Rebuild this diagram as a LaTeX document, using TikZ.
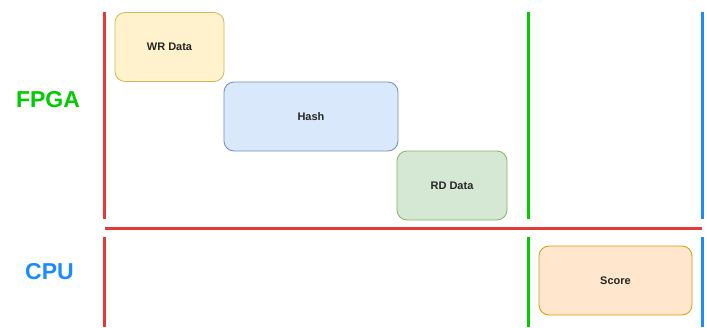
\documentclass[tikz,border=0pt]{standalone}
\usepackage{fontspec}
\setmainfont{Liberation Sans}
\definecolor{lanered}{HTML}{E53935}
\definecolor{lanegreen}{HTML}{00CC00}
\definecolor{laneblue}{HTML}{1A8CFF}
\definecolor{wrfill}{HTML}{FFF2CC}\definecolor{wrline}{HTML}{D6B656}
\definecolor{hashfill}{HTML}{DAE8FC}\definecolor{hashline}{HTML}{6C8EBF}
\definecolor{rdfill}{HTML}{D5E8D4}\definecolor{rdline}{HTML}{82B366}
\definecolor{scfill}{HTML}{FFE6CC}\definecolor{scline}{HTML}{D79B00}
\tikzset{
  lane/.style={line width=3pt},
  task/.style={draw, rounded corners=10pt, line width=0.8pt, inner sep=0pt,
    font=\bfseries\fontsize{11}{13}\selectfont, text=black!85},
  rowlabel/.style={font=\bfseries\fontsize{23}{26}\selectfont}
}
\begin{document}
\begin{tikzpicture}[x=1pt,y=-1pt]
\useasboundingbox (0,0) rectangle (707,327);
% row labels
\node[rowlabel, text=lanegreen] (fpga) at (48,100) {FPGA};
\node[rowlabel, text=laneblue] (cpu) at (49.5,272) {CPU};
% lane separators
\coordinate (rt) at (104,12);   \coordinate (rb) at (104,219);
\coordinate (rt2) at (104,237); \coordinate (rb2) at (104,327);
\coordinate (gt) at (528,12);   \coordinate (gb) at (528,219);
\coordinate (gt2) at (528,237); \coordinate (gb2) at (528,327);
\coordinate (bt) at (702,12);   \coordinate (bb) at (702,219);
\coordinate (bt2) at (702,237); \coordinate (bb2) at (702,327);
\coordinate (hl) at (105,228);  \coordinate (hr) at (702,228);
\draw[lane, lanered] (rt) -- (rb);
\draw[lane, lanered] (rt2) -- (rb2);
\draw[lane, lanered] (hl) -- (hr);
\draw[lane, lanegreen] (gt) -- (gb);
\draw[lane, lanegreen] (gt2) -- (gb2);
\draw[lane, laneblue] (bt) -- (bb);
\draw[lane, laneblue] (bt2) -- (bb2);
% tasks
\node[task, fill=wrfill, draw=wrline, minimum width=109pt, minimum height=69pt] (wr) at (169.5,47) {WR Data};
\node[task, fill=hashfill, draw=hashline, minimum width=174pt, minimum height=69pt] (hash) at (311,116.5) {Hash};
\node[task, fill=rdfill, draw=rdline, minimum width=110pt, minimum height=69pt] (rd) at (452,185.5) {RD Data};
\node[task, fill=scfill, draw=scline, minimum width=153pt, minimum height=69pt] (score) at (615.5,280.5) {Score};
\end{tikzpicture}
\end{document}
